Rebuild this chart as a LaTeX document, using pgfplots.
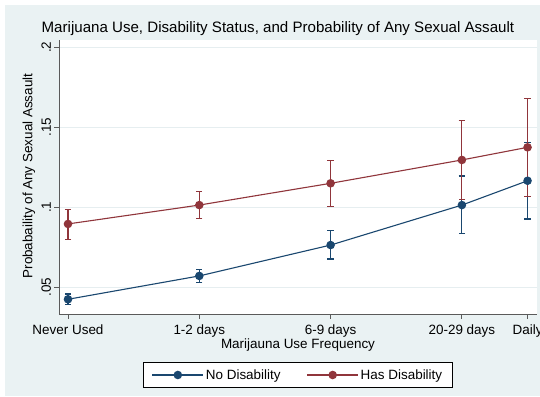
\documentclass[border=0pt]{standalone}
\usepackage{fontspec}
\setmainfont{Liberation Sans}
\usepackage{pgfplots}
\pgfplotsset{compat=1.18}
\usepackage{pgfplotstable}

\definecolor{stnavy}{RGB}{26,71,111}
\definecolor{stmaroon}{RGB}{144,53,59}
\definecolor{stbg}{RGB}{234,242,243}
\definecolor{stgrid}{RGB}{230,238,240}
\definecolor{staxis}{RGB}{90,90,90}

% predicted probability with 95% CI, by marijuana use frequency
\pgfplotstableread{
x   y      lo     hi
0   0.0425 0.0391 0.0458
1   0.0571 0.0531 0.0613
2   0.0764 0.0677 0.0854
3   0.1014 0.0835 0.1196
3.5 0.1166 0.0927 0.1406
}\nodis

\pgfplotstableread{
x   y      lo     hi
0   0.0896 0.0800 0.0988
1   0.1014 0.0929 0.1098
2   0.1150 0.1004 0.1291
3   0.1296 0.1050 0.1541
3.5 0.1375 0.1069 0.1683
}\hasdis

\newcommand{\lblfont}{\fontsize{13.45}{16}\selectfont}

\begin{document}
\begin{tikzpicture}[x=1pt,y=1pt]
\useasboundingbox (0,0) rectangle (540,396);
\fill[stbg] (0,0) rectangle (540,396);
\fill[white] (0,391) rectangle (540,396);
\fill[white] (0,0) rectangle (5,396);
\begin{axis}[
  at={(59pt,82pt)}, anchor=south west,
  scale only axis, width=478pt, height=274pt,
  xmin=-0.0685, xmax=3.572, ymin=0.0333, ymax=0.2046,
  axis background/.style={fill=white},
  axis x line*=bottom, axis y line*=left,
  axis line style={draw=staxis, line width=0.9pt},
  every tick/.style={draw=staxis, line width=0.9pt},
  tick align=outside, major tick length=4.5pt,
  xtick={0,1,2,3,3.5},
  xticklabels={Never Used,1-2 days,6-9 days,20-29 days,Daily},
  ytick={0.05,0.1,0.15,0.2},
  yticklabels={.05,.1,.15,.2},
  ticklabel style={font=\lblfont, text=black},
  xticklabel style={yshift=-2.5pt},
  yticklabel style={rotate=90, anchor=south},
  ymajorgrids, grid style={draw=stgrid, line width=1pt},
  xlabel={Marijauna Use Frequency},
  ylabel={Probabaility of Any Sexual Assault},
  every axis x label/.style={at={(rel axis cs:0.5,-0.1131)}, anchor=center, font=\lblfont},
  every axis y label/.style={at={(rel axis cs:-0.0628,0.5036)}, anchor=center, rotate=90, font=\lblfont},
  title={Marijuana Use, Disability Status, and Probability of Any Sexual Assault},
  title style={font=\fontsize{15.1}{18}\selectfont, at={(rel axis cs:0.458,1.019)}, anchor=center},
  legend columns=2,
  legend style={at={(0.5,-0.2226)}, anchor=center, draw=black, line width=0.8pt,
    fill=white, font=\lblfont, inner xsep=8pt, inner ysep=5pt,
    /tikz/every even column/.append style={column sep=24pt}},
  legend image code/.code={\draw[mark repeat=2, mark phase=2] plot coordinates {(0pt,0pt) (25.5pt,0pt) (51pt,0pt)};},
  clip=false,
]
\addplot[stnavy, line width=1.1pt, mark=*, mark size=3.7pt,
  error bars/.cd, y dir=both, y explicit, error mark=-,
  error bar style={line width=1.1pt},
  error mark options={rotate=90, mark size=3.2pt, line width=1.1pt}]
  table[x=x, y=y, y error plus expr=\thisrow{hi}-\thisrow{y}, y error minus expr=\thisrow{y}-\thisrow{lo}] {\nodis};
\addlegendentry{No Disability}
\addplot[stmaroon, line width=1.1pt, mark=*, mark size=3.7pt,
  error bars/.cd, y dir=both, y explicit, error mark=-,
  error bar style={line width=1.1pt},
  error mark options={rotate=90, mark size=3.2pt, line width=1.1pt}]
  table[x=x, y=y, y error plus expr=\thisrow{hi}-\thisrow{y}, y error minus expr=\thisrow{y}-\thisrow{lo}] {\hasdis};
\addlegendentry{Has Disability}
\end{axis}
\end{tikzpicture}
\end{document}
